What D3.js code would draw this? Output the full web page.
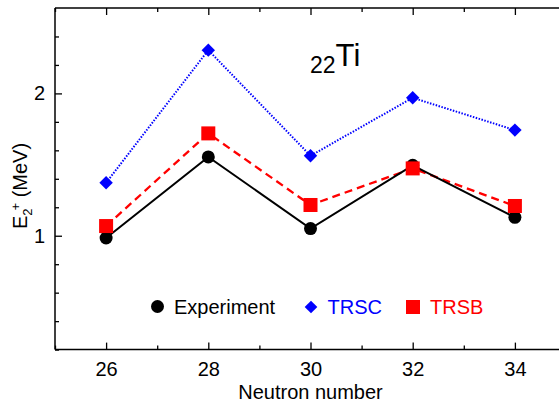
<!DOCTYPE html>
<html><head><meta charset="utf-8">
<script src="https://cdn.jsdelivr.net/npm/d3@7"></script>
<style>body{margin:0;background:#fff;} text{font-family:"Liberation Sans",Arial,Helvetica,sans-serif;}</style>
</head><body>
<svg id="c" width="559" height="403"></svg>
<script>
const neutrons = [26, 28, 30, 32, 34];
const experiment = [0.984, 1.554, 1.050, 1.495, 1.129];
const trsc = [1.372, 2.304, 1.562, 1.969, 1.742];
const trsb = [1.068, 1.719, 1.216, 1.473, 1.209];
const xMajorTicks = [26, 28, 30, 32, 34];
const xMinorTicks = [25, 27, 29, 31, 33, 35];
const yMajorTicks = [1, 2];
const yMinorTicks = [0.2,0.4,0.6,0.8,1.2,1.4,1.6,1.8,2.2,2.4];

const svg = d3.select("#c");
const x = d3.scaleLinear().domain([25, 35]).range([55, 566]);
const y = d3.scaleLinear().domain([0.2, 2.6]).range([349.6, 8]);

// frame lines
const g = svg.append("g");
g.append("line").attr("x1",55).attr("x2",559).attr("y1",y(0.2)).attr("y2",y(0.2)).attr("stroke","#000").attr("stroke-width",1.5);
g.append("line").attr("x1",55).attr("x2",559).attr("y1",y(2.6)).attr("y2",y(2.6)).attr("stroke","#000").attr("stroke-width",1.5);
g.append("line").attr("x1",55).attr("x2",55).attr("y1",y(0.2)).attr("y2",y(2.6)).attr("stroke","#000").attr("stroke-width",1.5);

// axes with inward ticks
function styleAxis(sel){ sel.select(".domain").remove(); sel.selectAll("line").attr("stroke","#000").attr("stroke-width",1.3); sel.selectAll("text").attr("font-size",20).attr("fill","#000"); }
const xb = svg.append("g").attr("transform",`translate(0,${y(0.2)})`)
  .call(d3.axisBottom(x).tickValues(xMajorTicks).tickFormat(d3.format("d")).tickSizeInner(-7).tickPadding(12));
styleAxis(xb);
const xbm = svg.append("g").attr("transform",`translate(0,${y(0.2)})`)
  .call(d3.axisBottom(x).tickValues(xMinorTicks).tickFormat("").tickSizeInner(-4));
styleAxis(xbm);
const xt = svg.append("g").attr("transform",`translate(0,${y(2.6)})`)
  .call(d3.axisTop(x).tickValues(xMajorTicks).tickFormat("").tickSizeInner(-7));
styleAxis(xt);
const xtm = svg.append("g").attr("transform",`translate(0,${y(2.6)})`)
  .call(d3.axisTop(x).tickValues(xMinorTicks).tickFormat("").tickSizeInner(-4));
styleAxis(xtm);
const yl = svg.append("g").attr("transform",`translate(55,0)`)
  .call(d3.axisLeft(y).tickValues(yMajorTicks).tickFormat(d3.format("d")).tickSizeInner(-7).tickPadding(10));
styleAxis(yl);
const ylm = svg.append("g").attr("transform",`translate(55,0)`)
  .call(d3.axisLeft(y).tickValues(yMinorTicks).tickFormat("").tickSizeInner(-4));
styleAxis(ylm);

// lines
const line = d3.line().x((d,i)=>x(neutrons[i])).y(d=>y(d));
svg.append("path").datum(trsc).attr("d",line).attr("fill","none").attr("stroke","#0000ff").attr("stroke-width",2).attr("stroke-dasharray","1.5,1.5");
svg.append("path").datum(trsb).attr("d",line).attr("fill","none").attr("stroke","#ff0000").attr("stroke-width",2.3).attr("stroke-dasharray","8,5");
svg.append("path").datum(experiment).attr("d",line).attr("fill","none").attr("stroke","#000").attr("stroke-width",2);

// markers
const sym = (type,size)=>d3.symbol().type(type).size(size);
svg.selectAll(".e").data(experiment).enter().append("circle").attr("cx",(d,i)=>x(neutrons[i])).attr("cy",d=>y(d)).attr("r",6.5).attr("fill","#000");
svg.selectAll(".d").data(trsc).enter().append("path").attr("d",sym(d3.symbolSquare,90)).attr("transform",(d,i)=>`translate(${x(neutrons[i])},${y(d)}) rotate(45)`).attr("fill","#0000ff");
svg.selectAll(".s").data(trsb).enter().append("rect").attr("x",(d,i)=>x(neutrons[i])-7).attr("y",d=>y(d)-7).attr("width",14).attr("height",14).attr("fill","#ff0000");

// title
const t = svg.append("text").attr("x",310).attr("y",66).attr("fill","#000");
t.append("tspan").attr("font-size",23).attr("dy",7).text("22");
t.append("tspan").attr("font-size",31).attr("dy",-7).text("Ti");

// legend
svg.append("circle").attr("cx",157.5).attr("cy",306.5).attr("r",6.5).attr("fill","#000");
svg.append("text").attr("x",174).attr("y",313.5).attr("font-size",20).attr("fill","#000").text("Experiment");
svg.append("path").attr("d",sym(d3.symbolSquare,80)).attr("transform","translate(311,307) rotate(45)").attr("fill","#0000ff");
svg.append("text").attr("x",327.5).attr("y",313.5).attr("font-size",20).attr("fill","#0000ff").text("TRSC");
svg.append("rect").attr("x",406).attr("y",300).attr("width",14).attr("height",14).attr("fill","#ff0000");
svg.append("text").attr("x",430).attr("y",313.5).attr("font-size",20).attr("fill","#ff0000").text("TRSB");

// axis labels
svg.append("text").attr("x",x(30)).attr("y",399).attr("text-anchor","middle").attr("font-size",20).attr("fill","#000").text("Neutron number");
const yt = svg.append("text").attr("transform","translate(27,186) rotate(-90)").attr("text-anchor","middle").attr("font-size",20).attr("fill","#000");
yt.append("tspan").text("E");
yt.append("tspan").attr("font-size",13).attr("dy",5).text("2");
yt.append("tspan").attr("font-size",13).attr("dy",-12).attr("dx",-2).text("+");
yt.append("tspan").attr("dy",7).text(" (MeV)");
</script>
</body></html>
